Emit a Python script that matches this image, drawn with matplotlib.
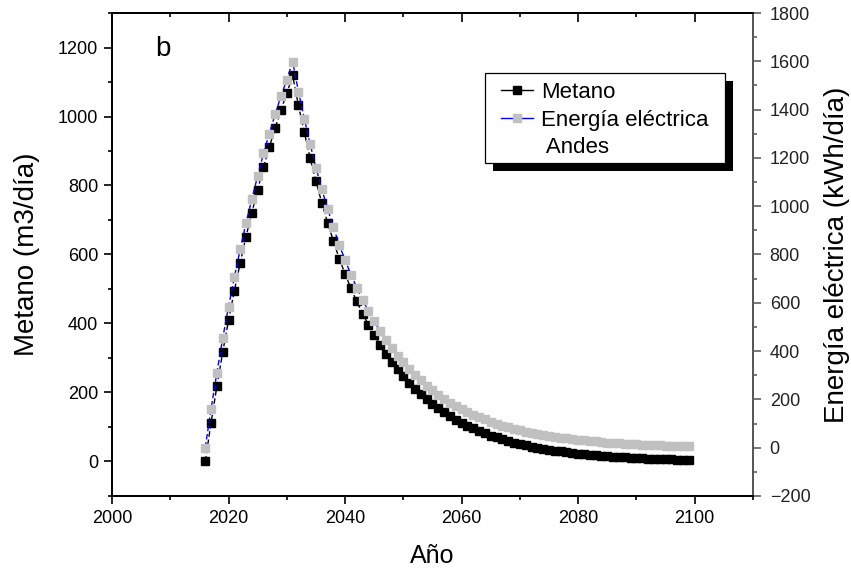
import matplotlib
matplotlib.use("Agg")
import matplotlib.pyplot as plt
from matplotlib.lines import Line2D
from matplotlib.patches import Rectangle
from matplotlib.transforms import IdentityTransform
from matplotlib.ticker import MultipleLocator

plt.rcParams['font.family'] = ['Liberation Sans', 'DejaVu Sans']

years = list(range(2016, 2100))
metano = [0, 112, 218, 317, 409, 495, 575, 652, 721, 788, 853, 911, 967, 1019, 1067, 1119,
          1032, 954, 880, 812, 750, 692, 639, 588, 544, 502, 464, 428, 397,
          367, 339, 313, 289, 267, 247, 228, 211, 195, 180, 166, 154, 142, 131, 121,
          112, 104, 96, 88, 82, 75, 70, 64, 59, 55, 51, 47, 43, 40, 37, 34, 31, 29, 27, 25,
          23, 21, 19, 18, 17, 15, 14, 13, 12, 11, 10, 9, 8.5, 8, 7, 6.5, 6, 5.5, 5, 4.7]
energia = [0, 160, 311, 453, 584, 707, 821, 931, 1030, 1126, 1219, 1301, 1381, 1456, 1524, 1599,
           1474, 1363, 1257, 1160, 1071, 989, 913, 840, 777, 717, 663, 611, 567,
           524, 484, 447, 413, 381, 353, 326, 301, 279, 257, 237, 220, 203, 187, 173,
           160, 149, 137, 126, 117, 107, 100, 91, 84, 79, 73, 67, 61, 57, 53, 49, 44, 41, 39, 36,
           33, 30, 27, 26, 24, 21, 20, 19, 17, 16, 14, 13, 12, 11, 10, 9, 8.6, 7.9, 7.1, 6.7]

fig = plt.figure(figsize=(8.51, 5.78), dpi=100)
ax = fig.add_axes([0.1316, 0.1419, 0.7532, 0.8356])
ax2 = ax.twinx()

ax.plot(years, metano, linestyle=(0, (4, 2)), color='black', linewidth=1.0,
        marker='s', markersize=6.3, markerfacecolor='black', markeredgecolor='black')
ax2.plot(years, energia, linestyle=(0, (4, 2)), color='#0000ff', linewidth=1.0,
         marker='s', markersize=6.3, markerfacecolor='#c0c0c0', markeredgecolor='#c0c0c0')

ax.set_xlim(2000, 2110)
ax.set_ylim(-100, 1300)
ax2.set_ylim(-200, 1800)

ax.xaxis.set_minor_locator(MultipleLocator(10))
ax.yaxis.set_minor_locator(MultipleLocator(100))
ax2.yaxis.set_major_locator(MultipleLocator(200))
ax2.yaxis.set_minor_locator(MultipleLocator(100))

ax.set_xticks([2000, 2020, 2040, 2060, 2080, 2100])
ax.set_yticks([0, 200, 400, 600, 800, 1000, 1200])

for sp in ax.spines.values():
    sp.set_linewidth(1.3)
for sp in ax2.spines.values():
    sp.set_linewidth(1.3)
ax2.spines['right'].set_color('#606060')

ax.tick_params(axis='both', which='major', direction='out', length=6, width=1.2,
               labelsize=13, pad=4, top=False, right=False)
ax.tick_params(axis='both', which='minor', direction='out', length=3, width=1.2,
               top=False, right=False)
ax2.tick_params(axis='y', which='major', direction='out', length=6, width=1.2, pad=6,
                labelsize=13, colors='#606060', labelcolor='#222222')
ax2.tick_params(axis='y', which='minor', direction='out', length=3, width=1.2, colors='#606060')

sec = ax.secondary_xaxis('top')
sec.xaxis.set_major_locator(MultipleLocator(20))
sec.xaxis.set_minor_locator(MultipleLocator(10))
sec.tick_params(axis='x', which='major', direction='in', length=6.5, width=1.2, labeltop=False)
sec.tick_params(axis='x', which='minor', direction='in', length=3, width=1.2)
sec.spines['top'].set_linewidth(1.3)

ax.set_xlabel('Año', fontsize=18, labelpad=12)
ax.set_ylabel('Metano (m3/día)', fontsize=20, labelpad=13)
ax2.set_ylabel('Energía eléctrica (kWh/día)', fontsize=20, labelpad=10)

ax.text(0.0796, 0.925, 'b', transform=ax.transAxes, fontsize=20, ha='center', va='center')

handles = [
    Line2D([], [], color='black', linewidth=1.0, marker='s', markersize=6,
           markerfacecolor='black', markeredgecolor='black'),
    Line2D([], [], color='#0000ff', linewidth=1.0, marker='s', markersize=6,
           markerfacecolor='#c0c0c0', markeredgecolor='#c0c0c0'),
    Line2D([], [], linestyle='none'),
]
labels = ['Metano', 'Energía eléctrica', ' Andes']
leg = ax2.legend(handles, labels, loc='upper right', bbox_to_anchor=(0.931, 0.857),
                 borderaxespad=0, frameon=False,
                 fontsize=16, handlelength=1.45, handletextpad=0.36, labelspacing=0.3,
                 borderpad=0.0)
leg.set_zorder(6)

fig.canvas.draw()
bb = leg.get_window_extent()
padx, pad_top, pad_bot = 16, 9, 5
fx0, fy0 = bb.x0 - padx, bb.y0 - pad_bot
fw, fh = bb.width + 2 * padx, bb.height + pad_top + pad_bot
shadow = Rectangle((fx0 + 8, fy0 - 8), fw, fh, transform=IdentityTransform(),
                   facecolor='black', edgecolor='none', zorder=5.4, clip_on=False)
frame = Rectangle((fx0, fy0), fw, fh, transform=IdentityTransform(),
                  facecolor='white', edgecolor='black', linewidth=0.9, zorder=5.5, clip_on=False)
ax2.add_artist(shadow)
ax2.add_artist(frame)

fig.savefig('out.png', dpi=100)
